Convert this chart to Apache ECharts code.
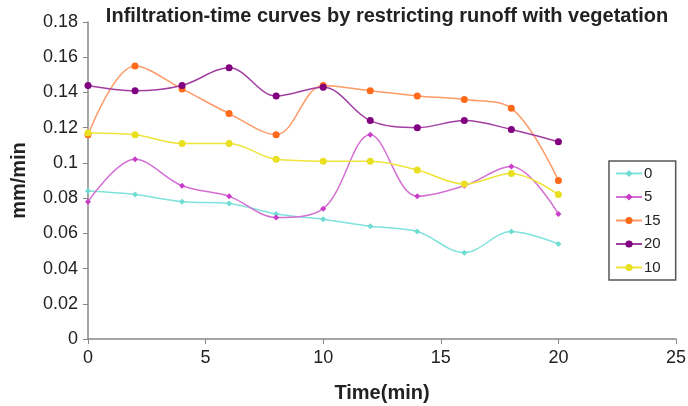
<!DOCTYPE html>
<html><head><meta charset="utf-8">
<script src="https://cdn.jsdelivr.net/npm/echarts@6/dist/echarts.min.js"></script>
<style>html,body{margin:0;padding:0;background:#fff}#c{width:688px;height:406px}</style>
</head><body><div id="c"></div>
<script>
const times = [0, 2, 4, 6, 8, 10, 12, 14, 16, 18, 20];
const s0  = [0.084, 0.082, 0.078, 0.077, 0.071, 0.068, 0.064, 0.061, 0.049, 0.061, 0.054];
const s5  = [0.078, 0.102, 0.087, 0.081, 0.069, 0.074, 0.116, 0.081, 0.087, 0.098, 0.071];
const s15 = [0.116, 0.155, 0.142, 0.128, 0.116, 0.144, 0.141, 0.138, 0.136, 0.131, 0.090];
const s20 = [0.144, 0.141, 0.144, 0.154, 0.138, 0.143, 0.124, 0.120, 0.124, 0.119, 0.112];
const s10 = [0.117, 0.116, 0.111, 0.111, 0.102, 0.101, 0.101, 0.096, 0.088, 0.094, 0.082];
const names = ['0', '5', '15', '20', '10'];
const yTicks = [0, 0.02, 0.04, 0.06, 0.08, 0.1, 0.12, 0.14, 0.16, 0.18];
const xTicks = [0, 5, 10, 15, 20, 25];

const seriesData = [s0, s5, s15, s20, s10];
const lineColors = ['#7fe3dc', '#d46fd4', '#ff9a66', '#a23ea2', '#eee43a'];
const markColors = ['#6fdcd2', '#c83cc8', '#ff6a1a', '#800080', '#e8e020'];
const symbols = ['diamond', 'diamond', 'circle', 'circle', 'circle'];
const sizes = [6, 6, 7, 7, 7];

const chart = echarts.init(document.getElementById('c'));
const font = 'Liberation Sans, Arial, sans-serif';
chart.setOption({
  animation: false,
  backgroundColor: '#fff',
  title: {
    text: 'Infiltration-time curves by restricting runoff with vegetation',
    left: 382, top: 1, textAlign: 'center',
    textStyle: {fontFamily: font, fontSize: 20, fontWeight: 'bold', color: '#222'}
  },
  legend: {
    orient: 'vertical', left: 609, top: 161,
    padding: [5, 15, 5, 6], itemGap: 8.5,
    itemWidth: 26, itemHeight: 9,
    borderColor: '#555', borderWidth: 1.5,
    textStyle: {fontFamily: font, fontSize: 15, color: '#222', lineHeight: 15, padding: [0, 0, 0, -3]},
    data: names
  },
  grid: {left: 88, right: 12, top: 22, bottom: 67, outerBoundsMode: 'none', containLabel: false},
  xAxis: {
    type: 'value', min: 0, max: 25, interval: 5,
    name: 'Time(min)', nameLocation: 'middle', nameGap: 44,
    nameTextStyle: {fontFamily: font, fontSize: 20, fontWeight: 'bold', color: '#222'},
    axisLine: {lineStyle: {color: '#888', width: 1.5}},
    axisTick: {show: true, inside: false, length: 5, lineStyle: {color: '#888'}},
    axisLabel: {fontFamily: font, fontSize: 18, color: '#222', margin: 10,
      formatter: v => xTicks.includes(v) ? String(v) : ''},
    splitLine: {show: false}
  },
  yAxis: {
    type: 'value', min: 0, max: 0.18, interval: 0.02,
    name: 'mm/min', nameLocation: 'middle', nameGap: 59, nameRotate: 90,
    nameTextStyle: {fontFamily: font, fontSize: 20, fontWeight: 'bold', color: '#222'},
    axisLine: {show: true, lineStyle: {color: '#888', width: 1.5}},
    axisTick: {show: true, inside: false, length: 5, lineStyle: {color: '#888'}},
    axisLabel: {fontFamily: font, fontSize: 18, color: '#222', margin: 10,
      formatter: v => { const t = yTicks.find(y => Math.abs(y - v) < 1e-9); return t === undefined ? '' : String(t); }},
    splitLine: {show: false}
  },
  series: names.map((n, i) => ({
    name: n, type: 'line', smooth: 0.35,
    data: times.map((t, j) => [t, seriesData[i][j]]),
    symbol: symbols[i], symbolSize: sizes[i],
    lineStyle: {color: lineColors[i], width: 1.5},
    itemStyle: {color: markColors[i]},
    emphasis: {disabled: true}
  }))
});
</script></body></html>
